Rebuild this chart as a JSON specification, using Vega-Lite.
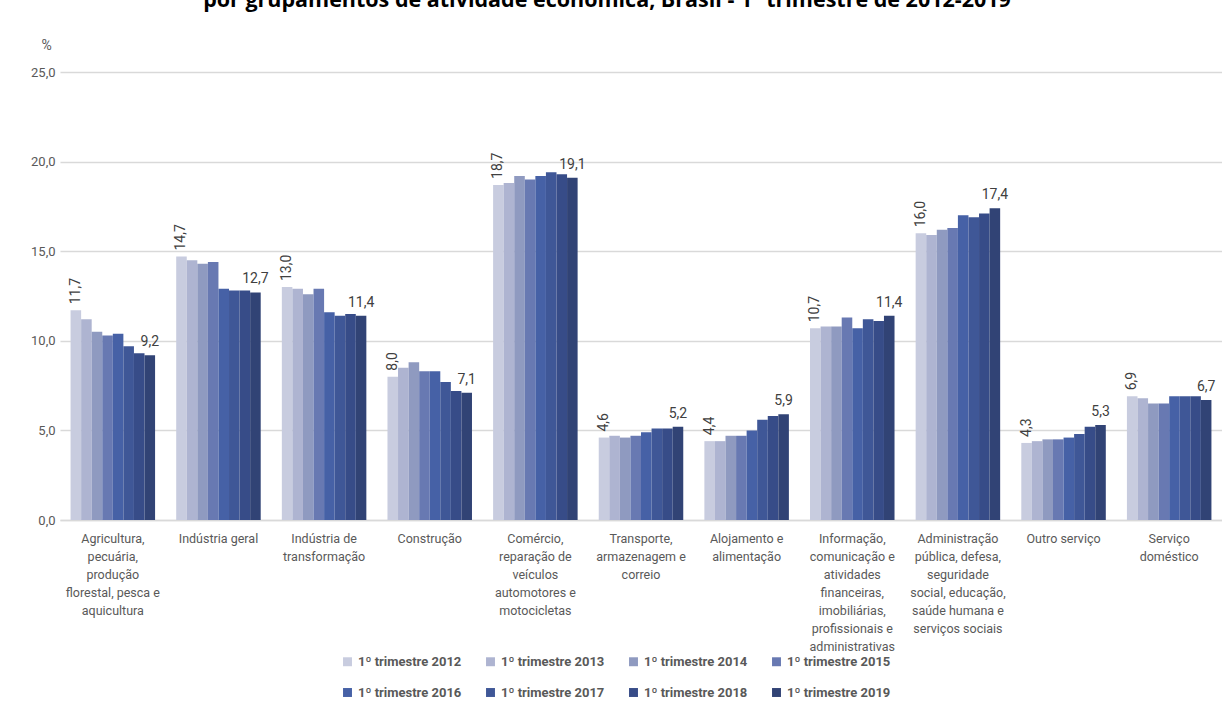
{
  "$schema": "https://vega.github.io/schema/vega-lite/v6.json",
  "width": 1162,
  "height": 448,
  "autosize": {"type": "none"},
  "padding": {"left": 60, "top": 72, "right": 0, "bottom": 191},
  "background": "white",
  "config": {
    "locale": {"number": {"decimal": ",", "thousands": ".", "grouping": [3], "currency": ["R$", ""]}},
    "view": {"stroke": null},
    "font": "Roboto"
  },
  "title": {
    "text": "por grupamentos de atividade econômica, Brasil - 1º trimestre de 2012-2019",
    "font": "Open Sans",
    "fontSize": 21.5,
    "fontWeight": "bold",
    "color": "#000000",
    "anchor": "middle",
    "dx": -34,
    "offset": 27
  },
  "data": {
    "values": [
      {"setor": "Agricultura,|pecuária,|produção|florestal, pesca e|aquicultura", "periodo": "1º trimestre 2012", "valor": 11.7},
      {"setor": "Agricultura,|pecuária,|produção|florestal, pesca e|aquicultura", "periodo": "1º trimestre 2013", "valor": 11.2},
      {"setor": "Agricultura,|pecuária,|produção|florestal, pesca e|aquicultura", "periodo": "1º trimestre 2014", "valor": 10.5},
      {"setor": "Agricultura,|pecuária,|produção|florestal, pesca e|aquicultura", "periodo": "1º trimestre 2015", "valor": 10.3},
      {"setor": "Agricultura,|pecuária,|produção|florestal, pesca e|aquicultura", "periodo": "1º trimestre 2016", "valor": 10.4},
      {"setor": "Agricultura,|pecuária,|produção|florestal, pesca e|aquicultura", "periodo": "1º trimestre 2017", "valor": 9.7},
      {"setor": "Agricultura,|pecuária,|produção|florestal, pesca e|aquicultura", "periodo": "1º trimestre 2018", "valor": 9.3},
      {"setor": "Agricultura,|pecuária,|produção|florestal, pesca e|aquicultura", "periodo": "1º trimestre 2019", "valor": 9.2},
      {"setor": "Indústria geral", "periodo": "1º trimestre 2012", "valor": 14.7},
      {"setor": "Indústria geral", "periodo": "1º trimestre 2013", "valor": 14.5},
      {"setor": "Indústria geral", "periodo": "1º trimestre 2014", "valor": 14.3},
      {"setor": "Indústria geral", "periodo": "1º trimestre 2015", "valor": 14.4},
      {"setor": "Indústria geral", "periodo": "1º trimestre 2016", "valor": 12.9},
      {"setor": "Indústria geral", "periodo": "1º trimestre 2017", "valor": 12.8},
      {"setor": "Indústria geral", "periodo": "1º trimestre 2018", "valor": 12.8},
      {"setor": "Indústria geral", "periodo": "1º trimestre 2019", "valor": 12.7},
      {"setor": "Indústria de|transformação", "periodo": "1º trimestre 2012", "valor": 13.0},
      {"setor": "Indústria de|transformação", "periodo": "1º trimestre 2013", "valor": 12.9},
      {"setor": "Indústria de|transformação", "periodo": "1º trimestre 2014", "valor": 12.6},
      {"setor": "Indústria de|transformação", "periodo": "1º trimestre 2015", "valor": 12.9},
      {"setor": "Indústria de|transformação", "periodo": "1º trimestre 2016", "valor": 11.6},
      {"setor": "Indústria de|transformação", "periodo": "1º trimestre 2017", "valor": 11.4},
      {"setor": "Indústria de|transformação", "periodo": "1º trimestre 2018", "valor": 11.5},
      {"setor": "Indústria de|transformação", "periodo": "1º trimestre 2019", "valor": 11.4},
      {"setor": "Construção", "periodo": "1º trimestre 2012", "valor": 8.0},
      {"setor": "Construção", "periodo": "1º trimestre 2013", "valor": 8.5},
      {"setor": "Construção", "periodo": "1º trimestre 2014", "valor": 8.8},
      {"setor": "Construção", "periodo": "1º trimestre 2015", "valor": 8.3},
      {"setor": "Construção", "periodo": "1º trimestre 2016", "valor": 8.3},
      {"setor": "Construção", "periodo": "1º trimestre 2017", "valor": 7.7},
      {"setor": "Construção", "periodo": "1º trimestre 2018", "valor": 7.2},
      {"setor": "Construção", "periodo": "1º trimestre 2019", "valor": 7.1},
      {"setor": "Comércio,|reparação de|veículos|automotores e|motocicletas", "periodo": "1º trimestre 2012", "valor": 18.7},
      {"setor": "Comércio,|reparação de|veículos|automotores e|motocicletas", "periodo": "1º trimestre 2013", "valor": 18.8},
      {"setor": "Comércio,|reparação de|veículos|automotores e|motocicletas", "periodo": "1º trimestre 2014", "valor": 19.2},
      {"setor": "Comércio,|reparação de|veículos|automotores e|motocicletas", "periodo": "1º trimestre 2015", "valor": 19.0},
      {"setor": "Comércio,|reparação de|veículos|automotores e|motocicletas", "periodo": "1º trimestre 2016", "valor": 19.2},
      {"setor": "Comércio,|reparação de|veículos|automotores e|motocicletas", "periodo": "1º trimestre 2017", "valor": 19.4},
      {"setor": "Comércio,|reparação de|veículos|automotores e|motocicletas", "periodo": "1º trimestre 2018", "valor": 19.3},
      {"setor": "Comércio,|reparação de|veículos|automotores e|motocicletas", "periodo": "1º trimestre 2019", "valor": 19.1},
      {"setor": "Transporte,|armazenagem e|correio", "periodo": "1º trimestre 2012", "valor": 4.6},
      {"setor": "Transporte,|armazenagem e|correio", "periodo": "1º trimestre 2013", "valor": 4.7},
      {"setor": "Transporte,|armazenagem e|correio", "periodo": "1º trimestre 2014", "valor": 4.6},
      {"setor": "Transporte,|armazenagem e|correio", "periodo": "1º trimestre 2015", "valor": 4.7},
      {"setor": "Transporte,|armazenagem e|correio", "periodo": "1º trimestre 2016", "valor": 4.9},
      {"setor": "Transporte,|armazenagem e|correio", "periodo": "1º trimestre 2017", "valor": 5.1},
      {"setor": "Transporte,|armazenagem e|correio", "periodo": "1º trimestre 2018", "valor": 5.1},
      {"setor": "Transporte,|armazenagem e|correio", "periodo": "1º trimestre 2019", "valor": 5.2},
      {"setor": "Alojamento e|alimentação", "periodo": "1º trimestre 2012", "valor": 4.4},
      {"setor": "Alojamento e|alimentação", "periodo": "1º trimestre 2013", "valor": 4.4},
      {"setor": "Alojamento e|alimentação", "periodo": "1º trimestre 2014", "valor": 4.7},
      {"setor": "Alojamento e|alimentação", "periodo": "1º trimestre 2015", "valor": 4.7},
      {"setor": "Alojamento e|alimentação", "periodo": "1º trimestre 2016", "valor": 5.0},
      {"setor": "Alojamento e|alimentação", "periodo": "1º trimestre 2017", "valor": 5.6},
      {"setor": "Alojamento e|alimentação", "periodo": "1º trimestre 2018", "valor": 5.8},
      {"setor": "Alojamento e|alimentação", "periodo": "1º trimestre 2019", "valor": 5.9},
      {"setor": "Informação,|comunicação e|atividades|financeiras,|imobiliárias,|profissionais e|administrativas", "periodo": "1º trimestre 2012", "valor": 10.7},
      {"setor": "Informação,|comunicação e|atividades|financeiras,|imobiliárias,|profissionais e|administrativas", "periodo": "1º trimestre 2013", "valor": 10.8},
      {"setor": "Informação,|comunicação e|atividades|financeiras,|imobiliárias,|profissionais e|administrativas", "periodo": "1º trimestre 2014", "valor": 10.8},
      {"setor": "Informação,|comunicação e|atividades|financeiras,|imobiliárias,|profissionais e|administrativas", "periodo": "1º trimestre 2015", "valor": 11.3},
      {"setor": "Informação,|comunicação e|atividades|financeiras,|imobiliárias,|profissionais e|administrativas", "periodo": "1º trimestre 2016", "valor": 10.7},
      {"setor": "Informação,|comunicação e|atividades|financeiras,|imobiliárias,|profissionais e|administrativas", "periodo": "1º trimestre 2017", "valor": 11.2},
      {"setor": "Informação,|comunicação e|atividades|financeiras,|imobiliárias,|profissionais e|administrativas", "periodo": "1º trimestre 2018", "valor": 11.1},
      {"setor": "Informação,|comunicação e|atividades|financeiras,|imobiliárias,|profissionais e|administrativas", "periodo": "1º trimestre 2019", "valor": 11.4},
      {"setor": "Administração|pública, defesa,|seguridade|social, educação,|saúde humana e|serviços sociais", "periodo": "1º trimestre 2012", "valor": 16.0},
      {"setor": "Administração|pública, defesa,|seguridade|social, educação,|saúde humana e|serviços sociais", "periodo": "1º trimestre 2013", "valor": 15.9},
      {"setor": "Administração|pública, defesa,|seguridade|social, educação,|saúde humana e|serviços sociais", "periodo": "1º trimestre 2014", "valor": 16.2},
      {"setor": "Administração|pública, defesa,|seguridade|social, educação,|saúde humana e|serviços sociais", "periodo": "1º trimestre 2015", "valor": 16.3},
      {"setor": "Administração|pública, defesa,|seguridade|social, educação,|saúde humana e|serviços sociais", "periodo": "1º trimestre 2016", "valor": 17.0},
      {"setor": "Administração|pública, defesa,|seguridade|social, educação,|saúde humana e|serviços sociais", "periodo": "1º trimestre 2017", "valor": 16.9},
      {"setor": "Administração|pública, defesa,|seguridade|social, educação,|saúde humana e|serviços sociais", "periodo": "1º trimestre 2018", "valor": 17.1},
      {"setor": "Administração|pública, defesa,|seguridade|social, educação,|saúde humana e|serviços sociais", "periodo": "1º trimestre 2019", "valor": 17.4},
      {"setor": "Outro serviço", "periodo": "1º trimestre 2012", "valor": 4.3},
      {"setor": "Outro serviço", "periodo": "1º trimestre 2013", "valor": 4.4},
      {"setor": "Outro serviço", "periodo": "1º trimestre 2014", "valor": 4.5},
      {"setor": "Outro serviço", "periodo": "1º trimestre 2015", "valor": 4.5},
      {"setor": "Outro serviço", "periodo": "1º trimestre 2016", "valor": 4.6},
      {"setor": "Outro serviço", "periodo": "1º trimestre 2017", "valor": 4.8},
      {"setor": "Outro serviço", "periodo": "1º trimestre 2018", "valor": 5.2},
      {"setor": "Outro serviço", "periodo": "1º trimestre 2019", "valor": 5.3},
      {"setor": "Serviço|doméstico", "periodo": "1º trimestre 2012", "valor": 6.9},
      {"setor": "Serviço|doméstico", "periodo": "1º trimestre 2013", "valor": 6.8},
      {"setor": "Serviço|doméstico", "periodo": "1º trimestre 2014", "valor": 6.5},
      {"setor": "Serviço|doméstico", "periodo": "1º trimestre 2015", "valor": 6.5},
      {"setor": "Serviço|doméstico", "periodo": "1º trimestre 2016", "valor": 6.9},
      {"setor": "Serviço|doméstico", "periodo": "1º trimestre 2017", "valor": 6.9},
      {"setor": "Serviço|doméstico", "periodo": "1º trimestre 2018", "valor": 6.9},
      {"setor": "Serviço|doméstico", "periodo": "1º trimestre 2019", "valor": 6.7}
    ]
  },
  "encoding": {
    "x": {
      "field": "setor",
      "type": "nominal",
      "sort": null,
      "scale": {"paddingInner": 0.2, "paddingOuter": 0.1},
      "axis": {
        "title": null,
        "labelExpr": "split(datum.value, '|')",
        "labelAngle": 0,
        "labelFontSize": 12.5,
        "labelColor": "#595959",
        "labelLineHeight": 18,
        "labelLimit": 0,
        "labelPadding": 12,
        "ticks": false,
        "domainColor": "#D9D9D9",
        "domainWidth": 1.3
      }
    },
    "xOffset": {
      "field": "periodo",
      "type": "nominal",
      "sort": null,
      "scale": {"domain": ["1º trimestre 2012", "1º trimestre 2013", "1º trimestre 2014", "1º trimestre 2015", "1º trimestre 2016", "1º trimestre 2017", "1º trimestre 2018", "1º trimestre 2019"]}
    },
    "y": {
      "field": "valor",
      "type": "quantitative",
      "scale": {"domain": [0, 25]},
      "axis": {
        "values": [0, 5, 10, 15, 20, 25],
        "format": ".1f",
        "domain": false,
        "ticks": false,
        "gridColor": "#D9D9D9",
        "gridWidth": 1.3,
        "labelFontSize": 13,
        "labelColor": "#595959",
        "labelPadding": 5,
        "title": "%",
        "titleAngle": 0,
        "titleFontWeight": "normal",
        "titleFontSize": 14,
        "titleColor": "#595959",
        "titleX": -14,
        "titleY": -27,
        "titleAlign": "center",
        "titleBaseline": "middle"
      }
    }
  },
  "layer": [
    {
      "mark": {"type": "bar"},
      "encoding": {
        "color": {
          "field": "periodo",
          "type": "nominal",
          "sort": null,
          "scale": {
            "domain": ["1º trimestre 2012", "1º trimestre 2013", "1º trimestre 2014", "1º trimestre 2015", "1º trimestre 2016", "1º trimestre 2017", "1º trimestre 2018", "1º trimestre 2019"],
            "range": ["#C8CCDF", "#AEB4D1", "#8F9AC0", "#6879B2", "#4661A6", "#3F5797", "#374C88", "#314375"]
          },
          "legend": {
            "title": null,
            "orient": "none",
            "legendX": 281,
            "legendY": 583,
            "direction": "horizontal",
            "columns": 4,
            "symbolType": "square",
            "symbolSize": 80,
            "symbolStrokeWidth": 0,
            "labelFontSize": 13,
            "labelFontWeight": "bold",
            "labelColor": "#595959",
            "labelOffset": 4,
            "columnPadding": 22,
            "rowPadding": 17
          }
        }
      }
    },
    {
      "transform": [{"filter": "datum.periodo == '1º trimestre 2012'"}],
      "mark": {"type": "text", "angle": -90, "align": "left", "baseline": "middle", "dx": 6, "fontSize": 14, "color": "#404040"},
      "encoding": {"text": {"field": "valor", "type": "quantitative", "format": ".1f"}}
    },
    {
      "transform": [{"filter": "datum.periodo == '1º trimestre 2019'"}],
      "mark": {"type": "text", "align": "center", "baseline": "bottom", "dy": -6, "fontSize": 14, "color": "#404040"},
      "encoding": {"text": {"field": "valor", "type": "quantitative", "format": ".1f"}}
    }
  ]
}
